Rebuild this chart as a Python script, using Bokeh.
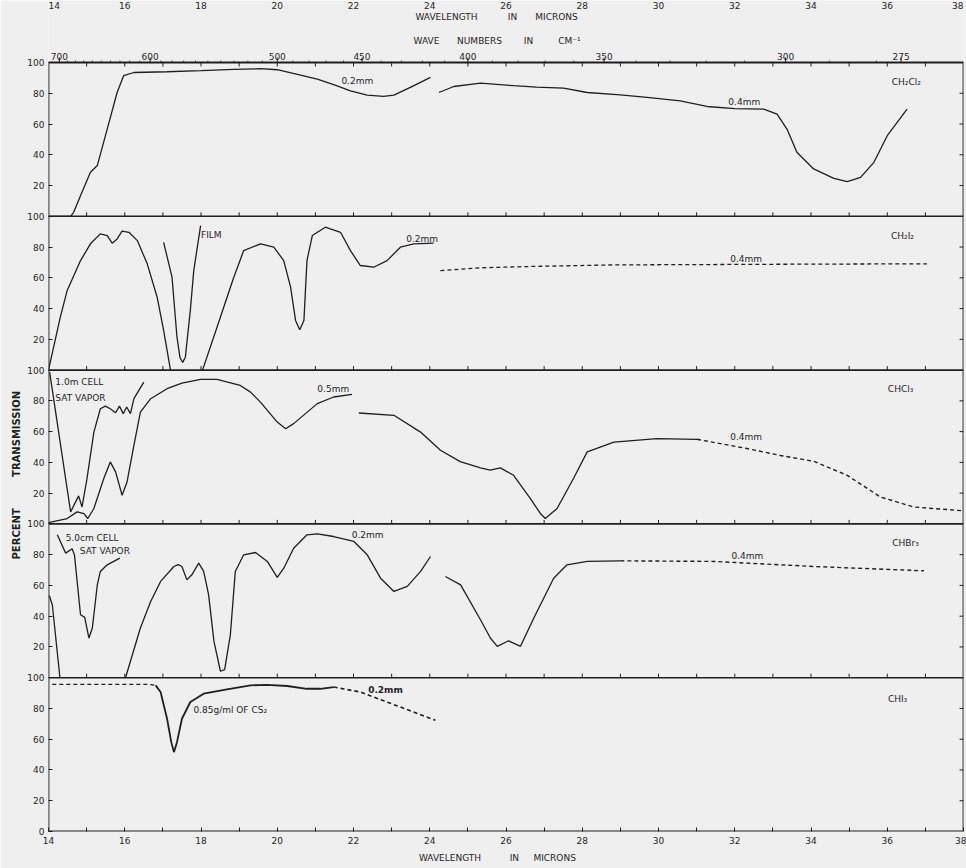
import numpy as np
from bokeh.plotting import figure
from bokeh.models import FixedTicker, Range1d, Label
from bokeh.embed import file_html
from bokeh.resources import INLINE
from bokeh.core.properties import value

# ---------------- data (wavelength in microns, percent transmission) ----------------
panel_names = ["CH₂Cl₂", "CH₂I₂", "CHCl₃", "CHBr₃", "CHI₃"]
micron_major = list(range(14, 39, 2))
micron_minor = list(range(15, 38, 2))
micron_all = list(range(15, 38))
wavenumber_major = [700, 600, 500, 450, 400, 350, 300, 275]
wavenumber_minor = list(range(280, 700, 10))
pct_ticks = [20, 40, 60, 80]

# CH2Cl2
ch2cl2_02_wl = [14.0, 14.58, 14.66, 14.85, 15.10, 15.28, 15.54, 15.80, 15.97, 16.24, 17.11, 18.0, 18.86,
                19.56, 20.0, 20.5, 21.05, 21.5, 21.92, 22.36, 22.79, 23.06, 23.49, 24.02]
ch2cl2_02_t = [0, 0, 2.6, 14, 28.6, 33, 56.7, 80.5, 91.4, 93.5, 94, 94.7, 95.5,
               96, 95.3, 92.5, 89.2, 85.5, 81.6, 78.8, 78, 78.8, 83.8, 90.3]
ch2cl2_04_wl = [24.24, 24.63, 25.33, 26.2, 26.8, 27.51, 28.13, 29.0, 29.70, 30.57, 31.27, 32.0, 32.76,
                33.11, 33.37, 33.63, 34.07, 34.60, 34.95, 35.30, 35.65, 36.0, 36.52]
ch2cl2_04_t = [80.5, 84.4, 86.6, 84.9, 84, 83.4, 80.5, 79, 77.3, 75.1, 71.4, 70, 69.7,
               66.5, 56.7, 41.6, 30.8, 24.7, 22.5, 25.3, 35.1, 52.4, 69.7]

# CH2I2
ch2i2_02a_wl = [14.0, 14.31, 14.49, 14.84, 15.10, 15.36, 15.54, 15.67, 15.80, 15.93, 16.11, 16.33, 16.59,
                16.85, 17.02, 17.20]
ch2i2_02a_t = [0, 34.4, 51.8, 71.2, 82.1, 88.6, 87.5, 82.5, 85.3, 90.3, 89.6, 84.2, 69.1,
               47.4, 25.8, 0]
ch2i2_film_wl = [17.02, 17.24, 17.37, 17.45, 17.52, 17.59, 17.72, 17.81, 17.99]
ch2i2_film_t = [83.1, 60.4, 21.4, 8, 5, 8.4, 38.8, 64.7, 94]
ch2i2_02b_wl = [18.04, 18.42, 18.86, 19.12, 19.56, 19.91, 20.17, 20.35, 20.48, 20.59, 20.70, 20.74, 20.78,
                20.92, 21.26, 21.66, 21.92, 22.18, 22.53, 22.88, 23.23, 23.58, 24.10]
ch2i2_02b_t = [0, 27.9, 60.4, 77.7, 82.1, 79.9, 71.2, 53.9, 32.3, 26.2, 32.3, 52, 71.2,
               87.5, 92.9, 89.6, 77.7, 68, 66.9, 71.2, 79.9, 82.1, 82.5]
ch2i2_04_wl = [24.28, 25.33, 26.5, 28.83, 31.0, 34.0, 37.04]
ch2i2_04_t = [64.7, 66.5, 67.3, 68.4, 68.6, 68.9, 69.1]

# CHCl3
chcl3_vap_wl = [14.03, 14.58, 14.79, 14.88, 15.01, 15.19, 15.36, 15.49, 15.62, 15.76, 15.86, 15.96,
                16.05, 16.15, 16.24, 16.50]
chcl3_vap_t = [98.7, 7.8, 18.2, 11, 29.5, 59.7, 74.9, 76.6, 74.9, 72.3, 76.6, 71.7,
               76, 71.7, 81.4, 92.2]
chcl3_05_wl = [14.0, 14.49, 14.75, 14.93, 15.03, 15.19, 15.45, 15.62, 15.76, 15.93, 16.06, 16.24, 16.41,
               16.68, 17.11, 17.5, 17.99, 18.42, 19.03, 19.30, 19.56, 19.74, 20.0, 20.22, 20.43, 21.05,
               21.48, 21.96]
chcl3_05_t = [0.9, 3.5, 7.8, 6.7, 3.5, 10, 29.5, 40.3, 33.8, 18.6, 27.3, 51.1, 72.7,
              81.4, 87.9, 91.5, 94, 94, 90, 85.7, 79.2, 73.8, 66.2, 61.9, 65.2, 78.2,
              82.5, 84.2]
chcl3_04_wl = [22.14, 23.06, 23.76, 24.28, 24.8, 25.33, 25.59, 25.85, 26.2, 26.64, 26.90, 27.03, 27.34,
               27.77, 28.13, 28.83, 29.96, 31.01]
chcl3_04_t = [72.1, 70.6, 59.7, 47.9, 40.5, 36.4, 34.9, 36.4, 31.6, 16.5, 6.8, 3.5, 10,
              29.5, 46.8, 53.2, 55.5, 55]
chcl3_04d_wl = [31.01, 32.32, 33.2, 34.07, 34.95, 35.82, 36.69, 38.0]
chcl3_04d_t = [55, 49, 44.5, 40.7, 31.6, 17.5, 11, 8.5]

# CHBr3
chbr3_vap_wl = [14.23, 14.45, 14.62, 14.68, 14.84, 14.95, 15.06, 15.15, 15.28, 15.36, 15.54, 15.87]
chbr3_vap_t = [92.9, 81, 83.8, 80, 40.9, 39.2, 25.8, 32.3, 60.4, 69.1, 73.4, 77.7]
chbr3_02a_wl = [14.0, 14.03, 14.1, 14.30]
chbr3_02a_t = [53, 52.8, 47.4, 0]
chbr3_02b_wl = [16.02, 16.41, 16.68, 16.94, 17.29, 17.40, 17.50, 17.63, 17.76, 17.94, 18.07, 18.20, 18.34,
                18.51, 18.62, 18.77, 18.90, 19.12, 19.43, 19.74, 20.0, 20.17, 20.43, 20.78, 21.05, 21.48,
                22.01, 22.36, 22.71, 23.06, 23.41, 23.76, 24.02]
chbr3_02b_t = [0, 32.3, 49.6, 62.6, 72.3, 73.5, 72.3, 63.6, 66.9, 74.5, 69.1, 53.9, 23.6,
               4.2, 5.2, 27.9, 69.1, 79.9, 81.4, 75.6, 65.2, 71.2, 84.2, 92.9, 93.5, 91.8,
               88.6, 79.9, 64.7, 56.1, 59.4, 69.1, 78.8]
chbr3_04_wl = [24.41, 24.81, 25.33, 25.59, 25.77, 26.07, 26.38, 26.73, 27.25, 27.60, 28.13, 29.0]
chbr3_04_t = [65.8, 60.4, 37.7, 25.8, 20.4, 24, 20.4, 38.8, 64.7, 73.4, 75.6, 76]
chbr3_04d_wl = [29.0, 31.45, 34.07, 36.96]
chbr3_04d_t = [76, 75.6, 72.3, 69.5]

# CHI3
chi3_cs2d_wl = [14.1, 16.59, 16.81]
chi3_cs2d_t = [95.7, 95.7, 95]
chi3_cs2_wl = [16.81, 16.94, 17.11, 17.22, 17.29, 17.37, 17.50, 17.72, 18.07, 18.68, 19.30, 19.73, 20.26,
               20.78, 21.13, 21.48]
chi3_cs2_t = [95, 90.7, 73.3, 58.1, 51.6, 58.1, 73.3, 84.2, 89.6, 92.4, 95, 95.4, 94.6,
              92.8, 92.8, 93.9]
chi3_02d_wl = [21.48, 22.18, 23.23, 24.15]
chi3_02d_t = [93.9, 90.7, 80.9, 72.3]

# (panel, wavelengths, transmissions, dashed, width)
segments = [
    (0, ch2cl2_02_wl, ch2cl2_02_t, False, 1.3),
    (0, ch2cl2_04_wl, ch2cl2_04_t, False, 1.3),
    (1, ch2i2_02a_wl, ch2i2_02a_t, False, 1.3),
    (1, ch2i2_film_wl, ch2i2_film_t, False, 1.3),
    (1, ch2i2_02b_wl, ch2i2_02b_t, False, 1.3),
    (1, ch2i2_04_wl, ch2i2_04_t, True, 1.3),
    (2, chcl3_vap_wl, chcl3_vap_t, False, 1.3),
    (2, chcl3_05_wl, chcl3_05_t, False, 1.3),
    (2, chcl3_04_wl, chcl3_04_t, False, 1.3),
    (2, chcl3_04d_wl, chcl3_04d_t, True, 1.4),
    (3, chbr3_vap_wl, chbr3_vap_t, False, 1.3),
    (3, chbr3_02a_wl, chbr3_02a_t, False, 1.3),
    (3, chbr3_02b_wl, chbr3_02b_t, False, 1.3),
    (3, chbr3_04_wl, chbr3_04_t, False, 1.3),
    (3, chbr3_04d_wl, chbr3_04d_t, True, 1.4),
    (4, chi3_cs2d_wl, chi3_cs2d_t, True, 1.3),
    (4, chi3_cs2_wl, chi3_cs2_t, False, 1.8),
    (4, chi3_02d_wl, chi3_02d_t, True, 1.6),
]

# (panel, wavelength, transmission, text, align, bold)
annotations = [
    (0, 22.1, 88, "0.2mm", "center", False),
    (0, 32.25, 74, "0.4mm", "center", False),
    (0, 36.5, 87, panel_names[0], "center", False),
    (1, 18.0, 88, "FILM", "left", False),
    (1, 23.8, 85.3, "0.2mm", "center", False),
    (1, 32.3, 72, "0.4mm", "center", False),
    (1, 36.4, 87.5, panel_names[1], "center", False),
    (2, 14.18, 92, "1.0m CELL", "left", False),
    (2, 14.18, 82, "SAT VAPOR", "left", False),
    (2, 21.47, 88, "0.5mm", "center", False),
    (2, 32.3, 56.5, "0.4mm", "center", False),
    (2, 36.35, 88, panel_names[2], "center", False),
    (3, 14.45, 90.7, "5.0cm CELL", "left", False),
    (3, 14.82, 82.7, "SAT VAPOR", "left", False),
    (3, 22.37, 92.5, "0.2mm", "center", False),
    (3, 32.33, 79, "0.4mm", "center", False),
    (3, 36.48, 87.5, panel_names[3], "center", False),
    (4, 17.80, 78.8, "0.85g/ml OF CS₂", "left", False),
    (4, 22.84, 91.8, "0.2mm", "center", True),
    (4, 36.27, 86.3, panel_names[4], "center", False),
]

# ---------------- figure ----------------
INK = "#1f1f1f"
BG = "#efefef"
FONT = "DejaVu Sans"
NB = "\u00a0"
W, H = 966, 868
BB, BL, BR = 37, 48, 3
PANEL_TOP_PX = 62                     # screen row of the top of the first panel
ppu = (H - BB - PANEL_TOP_PX) / 500.0  # pixels per percent unit
YMAX = 500 + PANEL_TOP_PX / ppu        # frame reaches the top of the page

p = figure(width=W, height=H, output_backend="svg", toolbar_location=None,
           x_range=Range1d(14, 38), y_range=Range1d(0, YMAX),
           min_border_top=0, min_border_bottom=BB, min_border_left=BL, min_border_right=BR,
           background_fill_color=BG, border_fill_color=BG)
p.grid.visible = False
p.outline_line_color = None


def off(panel):
    return (4 - panel) * 100


def y_px(ypx):
    return YMAX - ypx / ppu


def x_px(xpx):
    return 14 + (xpx - BL) / ((W - BL - BR) / 24.0)


# bottom axis (microns)
xa = p.xaxis[0]
xa.ticker = FixedTicker(ticks=micron_major, minor_ticks=micron_minor)
xa.major_tick_in, xa.major_tick_out = 4, 0
xa.minor_tick_in, xa.minor_tick_out = 4, 0
xa.major_tick_line_color = INK
xa.minor_tick_line_color = INK
xa.axis_line_color = None
xa.major_label_standoff = 5
xa.major_label_text_font = FONT
xa.major_label_text_font_size = "9px"
xa.major_label_text_color = INK
xa.axis_label = "WAVELENGTH" + NB * 10 + "IN" + NB * 5 + "MICRONS" + NB * 6
xa.axis_label_standoff = 6
xa.axis_label_text_font = FONT
xa.axis_label_text_font_size = "9px"
xa.axis_label_text_font_style = "normal"
xa.axis_label_text_color = INK

# left axis (percent transmission, five stacked panels)
ya = p.yaxis[0]
yt = sorted(set([off(k) + t for k in range(5) for t in pct_ticks] + [0, 100, 200, 300, 400, 500]))
ya.ticker = FixedTicker(ticks=yt, minor_ticks=[])
ya.major_label_overrides = {v: ("0" if v == 0 else ("100" if v % 100 == 0 else str(v % 100))) for v in yt}
ya.major_tick_in, ya.major_tick_out = 4, 0
ya.major_tick_line_color = INK
ya.axis_line_color = None
ya.major_label_standoff = 4
ya.major_label_text_font = FONT
ya.major_label_text_font_size = "9px"
ya.major_label_text_color = INK
ya.axis_label = "PERCENT" + NB * 9 + "TRANSMISSION" + NB * 34
ya.axis_label_standoff = 2
ya.axis_label_text_font = FONT
ya.axis_label_text_font_size = "10px"
ya.axis_label_text_font_style = "bold"
ya.axis_label_text_color = INK

# box around the five panels and separators
p.quad(left=[14], right=[38], bottom=[0], top=[500], fill_color=None, line_color=INK, line_width=1.8)
for k in range(1, 5):
    p.segment(x0=[14], x1=[38], y0=[off(k) + 100], y1=[off(k) + 100], line_color=INK, line_width=1.6)

# inward tick marks on panel boundaries and right edge
for k in range(1, 5):
    p.ray(x=micron_all, y=[off(k) + 100] * len(micron_all), length=4, length_units="screen",
          angle=np.pi / 2, line_color=INK, line_width=1)
p.ray(x=micron_all, y=[500] * len(micron_all), length=4, length_units="screen",
      angle=-np.pi / 2, line_color=INK, line_width=1)
ry = [off(k) + t for k in range(5) for t in pct_ticks]
p.ray(x=[38] * len(ry), y=ry, length=4, length_units="screen", angle=np.pi,
      line_color=INK, line_width=1)

# wave-number scale along the top edge
wn_pos = [10000.0 / n for n in wavenumber_major]
wn_minor = [10000.0 / n for n in wavenumber_minor if n not in wavenumber_major]
p.ray(x=wn_pos, y=[500] * len(wn_pos), length=5, length_units="screen", angle=np.pi / 2,
      line_color=INK, line_width=1)
p.ray(x=wn_minor, y=[500] * len(wn_minor), length=2, length_units="screen", angle=np.pi / 2,
      line_color=INK, line_width=0.8)
p.text(x=wn_pos, y=[y_px(55.5)] * len(wn_pos), text=[str(n) for n in wavenumber_major],
       text_align="center", text_baseline="alphabetic", text_font=value(FONT),
       text_font_size="9px", text_color=INK)

# spectra
for panel, wl, t, dashed, w in segments:
    p.line(x=wl, y=np.array(t, dtype=float) + off(panel), line_color=INK, line_width=w,
           line_dash="4 3" if dashed else "solid")

# in-panel annotations
for panel, x, t, txt, align, bold in annotations:
    p.add_layout(Label(x=x, y=t + off(panel), text=txt, text_align=align, text_baseline="middle",
                       text_font=FONT, text_font_size="9px", text_color=INK,
                       text_font_style="bold" if bold else "normal"))


# titles at the top
def words(items, ypx):
    p.text(x=[x_px(c) for _, c in items], y=[y_px(ypx)] * len(items), text=[t for t, _ in items],
           text_align="center", text_baseline="middle", text_font=value(FONT),
           text_font_size="9px", text_color=INK)


words([("WAVELENGTH", 446), ("IN", 512), ("MICRONS", 556)], 16)
words([("WAVE", 426), ("NUMBERS", 479), ("IN", 528), ("CM⁻¹", 569)], 40)

# micron scale at the very top of the page
top_align = ["left"] + ["center"] * (len(micron_major) - 2) + ["right"]
p.text(x=micron_major, y=[y_px(1)] * len(micron_major), text=[str(m) for m in micron_major],
       text_align=top_align, text_baseline="top", text_font=value(FONT), text_font_size="9px",
       text_color=INK)

open("out.html", "w").write(file_html(p, INLINE))
